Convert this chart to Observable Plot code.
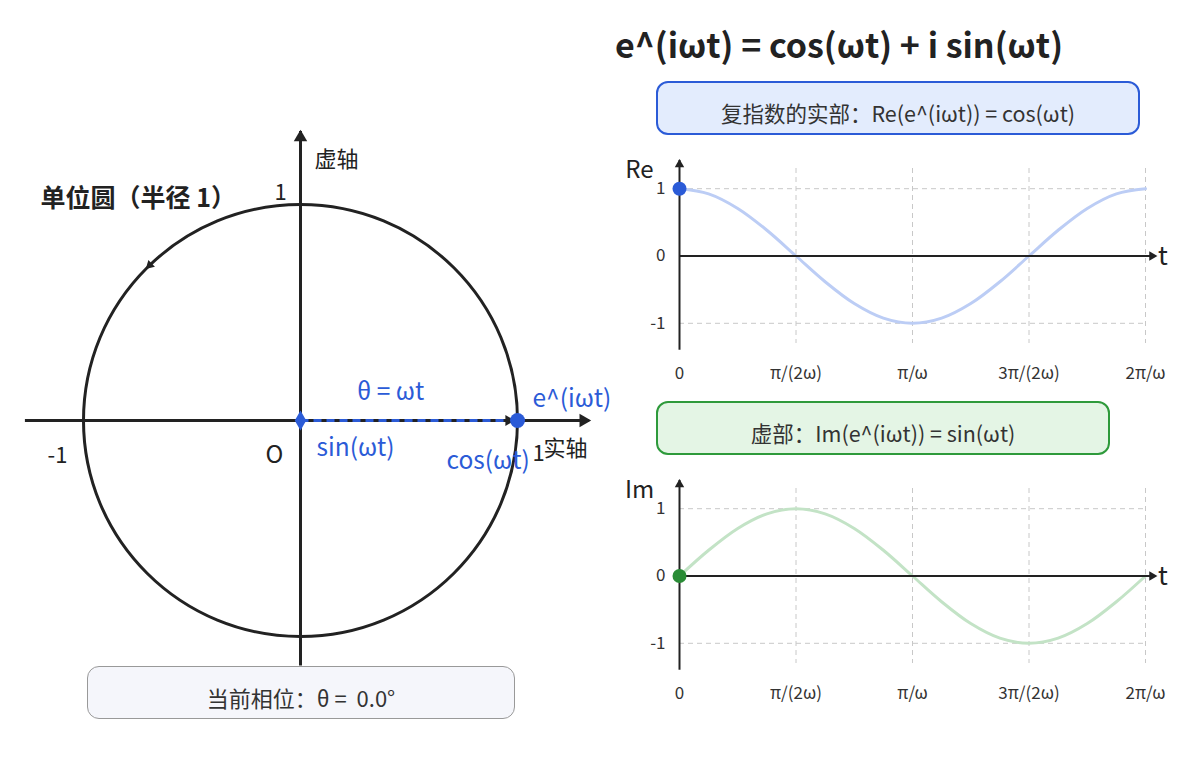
<!DOCTYPE html>
<html>
<head>
<meta charset="utf-8">
<script src="https://cdn.jsdelivr.net/npm/d3@7"></script>
<script src="https://cdn.jsdelivr.net/npm/@observablehq/plot@0.6"></script>
<style>
  html, body { margin: 0; padding: 0; background: #fff; }
  body { font-family: "Noto Sans CJK SC", "Noto Sans", sans-serif; color: #222; }
  #root { position: relative; width: 1200px; height: 760px; overflow: hidden; }
  .box { position: absolute; box-sizing: border-box; border-radius: 12px; display: flex;
         align-items: center; justify-content: center; font-size: 21px; color: #333; padding-top: 9px; }
</style>
</head>
<body>
<div id="root"></div>
<script>
// ---------- data ----------
// time in units of π/(2ω)
const tUnits = [0, 0.25, 0.5, 0.75, 1, 1.25, 1.5, 1.75, 2, 2.25, 2.5, 2.75, 3, 3.25, 3.5, 3.75, 4];
const cosValues = [1, 0.924, 0.707, 0.383, 0, -0.383, -0.707, -0.924, -1, -0.924, -0.707, -0.383, 0, 0.383, 0.707, 0.924, 1];
const sinValues = [0, 0.383, 0.707, 0.924, 1, 0.924, 0.707, 0.383, 0, -0.383, -0.707, -0.924, -1, -0.924, -0.707, -0.383, 0];
const tTickValues = [0, 1, 2, 3, 4];
const tTickLabels = ["0", "π/(2ω)", "π/ω", "3π/(2ω)", "2π/ω"];
const yTickValues = [-1, 0, 1];
const currentPhaseDeg = 0.0;
const currentRe = 1;
const currentIm = 0;

const titleText = "e^(iωt) = cos(ωt) + i sin(ωt)";
const reBoxText = "复指数的实部：Re(e^(iωt)) = cos(ωt)";
const imBoxText = "虚部：Im(e^(iωt)) = sin(ωt)";
const phaseText = "当前相位：θ = \u00a0" + currentPhaseDeg.toFixed(1) + "°";

// tables
const wave = tUnits.map((t, i) => ({t, re: cosValues[i], im: sinValues[i]}));
const circlePts = cosValues.slice(0, 16).map((c, i) => ({x: c, y: sinValues[i]}));

const FONT = "'Noto Sans CJK SC', 'Noto Sans', sans-serif";
const INK = "#222";
const BLUE = "#2b5bd7";
const root = document.getElementById("root");

function place(el, left, top) {
  el.style.position = "absolute";
  el.style.left = left + "px";
  el.style.top = top + "px";
  root.appendChild(el);
}

// ---------- left: unit circle ----------
const left = Plot.plot({
  width: 625, height: 760,
  margin: 0,
  x: {domain: [-1, 1], range: [83, 517]},
  y: {domain: [-1, 1], range: [636, 204]},
  axis: null,
  style: {fontFamily: FONT, background: "transparent", overflow: "visible"},
  marks: [
    // axes
    Plot.link([0], {x1: -1.27, y1: 0, x2: 1.33, y2: 0, stroke: INK, strokeWidth: 3}),
    Plot.link([0], {x1: 0, y1: -1.134, x2: 0, y2: 1.34, stroke: INK, strokeWidth: 3}),
    Plot.dot([0], {x: 1.336, y: 0, dx: -7, symbol: "triangle", r: 5, fill: INK, rotate: 90}),
    Plot.dot([0], {x: 0, y: 1.343, dy: 7, symbol: "triangle", r: 5, fill: INK, rotate: 0}),
    // unit circle
    Plot.line(circlePts, {x: "x", y: "y", curve: "catmull-rom-closed", stroke: INK, strokeWidth: 3}),
    Plot.dot([0], {x: -0.695, y: 0.719, symbol: "triangle", r: 3.5, fill: INK, rotate: 226}),
    // rotating vector
    Plot.link([0], {x1: 0, y1: 0, x2: currentRe, y2: currentIm, stroke: BLUE, strokeWidth: 3, strokeDasharray: "8,5"}),
    Plot.dot([0], {x: currentRe, y: currentIm, dx: -9, symbol: "triangle", r: 4, fill: INK, rotate: 90}),
    Plot.dot([0], {x: 0, y: 0, symbol: "diamond", r: 6, fill: BLUE}),
    Plot.dot([0], {x: currentRe, y: currentIm, r: 7.5, fill: BLUE}),
    // labels
    Plot.text(["单位圆（半径 1）"], {x: -1, y: 1, dx: -43, dy: -6, textAnchor: "start", fontSize: 25, fontWeight: "bold", fill: INK}),
    Plot.text(["虚轴"], {x: 0, y: 1, dx: 14, dy: -45, textAnchor: "start", fontSize: 22, fill: INK}),
    Plot.text(["1"], {x: 0, y: 1, dx: -20, dy: -12, fontSize: 22, fill: INK}),
    Plot.text(["-1"], {x: -1, y: 0, dx: -26, dy: 35, fontSize: 22, fill: INK}),
    Plot.text(["O"], {x: 0, y: 0, dx: -26, dy: 35, fontSize: 24, fill: INK}),
    Plot.text(["1"], {x: 1, y: 0, dx: 15, dy: 33, textAnchor: "start", fontSize: 22, fill: INK}),
    Plot.text(["实轴"], {x: 1, y: 0, dx: 26, dy: 28, textAnchor: "start", fontSize: 22, fill: INK}),
    Plot.text(["θ = ωt"], {x: 0.415, y: 0.13, fontSize: 24.5, fill: BLUE}),
    Plot.text(["e^(iωt)"], {x: currentRe, y: currentIm, dx: 15, dy: -21, textAnchor: "start", fontSize: 24.5, fill: BLUE}),
    Plot.text(["sin(ωt)"], {x: 0, y: currentIm, dx: 16, dy: 28, textAnchor: "start", fontSize: 24.5, fill: BLUE}),
    Plot.text(["cos(ωt)"], {x: currentRe, y: 0, dx: -71, dy: 41, textAnchor: "start", fontSize: 24.5, fill: BLUE})
  ]
});
place(left, 0, 0);

// ---------- right: wave panels ----------
function wavePlot(key, color, dotColor, current, label) {
  return Plot.plot({
    width: 575, height: 250,
    marginLeft: 54, marginRight: 55, marginTop: 28, marginBottom: 47,
    x: {domain: [0, 4]},
    y: {domain: [-1.3, 1.3]},
    style: {fontFamily: FONT, background: "transparent", overflow: "visible", color: "#333"},
    marks: [
      Plot.gridX({ticks: [1, 2, 3, 4], stroke: "#c8c8c8", strokeOpacity: 1, strokeDasharray: "5,4"}),
      Plot.gridY({ticks: [-1, 1], stroke: "#c8c8c8", strokeOpacity: 1, strokeDasharray: "5,4"}),
      Plot.axisX({ticks: tTickValues, tickFormat: i => tTickLabels[i], tickSize: 0, tickPadding: 23, fontSize: 17, label: null}),
      Plot.axisY({ticks: yTickValues, tickFormat: d => String(d), tickSize: 0, tickPadding: 14, fontSize: 17, label: null}),
      Plot.line(wave, {x: "t", y: key, curve: "catmull-rom", stroke: color, strokeWidth: 3}),
      Plot.ruleY([0], {x1: 0, x2: 4.09, stroke: INK, strokeWidth: 2}),
      Plot.ruleX([0], {y1: -1.4, y2: 1.42, stroke: INK, strokeWidth: 2}),
      Plot.dot([0], {x: 4.09, y: 0, dx: -4, symbol: "triangle", r: 3.5, fill: INK, rotate: 90}),
      Plot.dot([0], {x: 0, y: 1.42, dy: 4, symbol: "triangle", r: 3.5, fill: INK, rotate: 0}),
      Plot.dot([0], {x: 0, y: current, r: 7, fill: dotColor}),
      Plot.text([label], {x: 0, y: 1, dx: -40, dy: -18, fontSize: 24, fill: INK}),
      Plot.text(["t"], {x: 4.09, y: 0, dx: 2, dy: 1, textAnchor: "start", fontSize: 26, fill: INK})
    ]
  });
}
place(wavePlot("re", "#bccdf5", BLUE, currentRe, "Re"), 625, 140);
place(wavePlot("im", "#c3e3c6", "#2a8c36", currentIm, "Im"), 625, 460);

// ---------- text blocks ----------
const title = document.createElement("div");
title.textContent = titleText;
title.style.cssText = "width:600px;text-align:center;font-size:34px;font-weight:bold;color:#222;line-height:1;";
place(title, 539, 27);

function box(text, l, t, w, h, fill, stroke, bw, fs) {
  const d = document.createElement("div");
  d.className = "box";
  d.textContent = text;
  d.style.cssText += `width:${w}px;height:${h}px;background:${fill};border:${bw}px solid ${stroke};font-size:${fs}px;`;
  place(d, l, t);
}
box(reBoxText, 656, 81, 484, 54, "#e3ecfd", "#2b5bd7", 2.5, 21.5);
box(imBoxText, 656, 401, 454, 54, "#e4f5e5", "#2e9a3b", 2.5, 21.5);
box(phaseText, 87, 666, 428, 53, "#f5f6fb", "#999", 1.5, 22);
</script>
</body>
</html>
